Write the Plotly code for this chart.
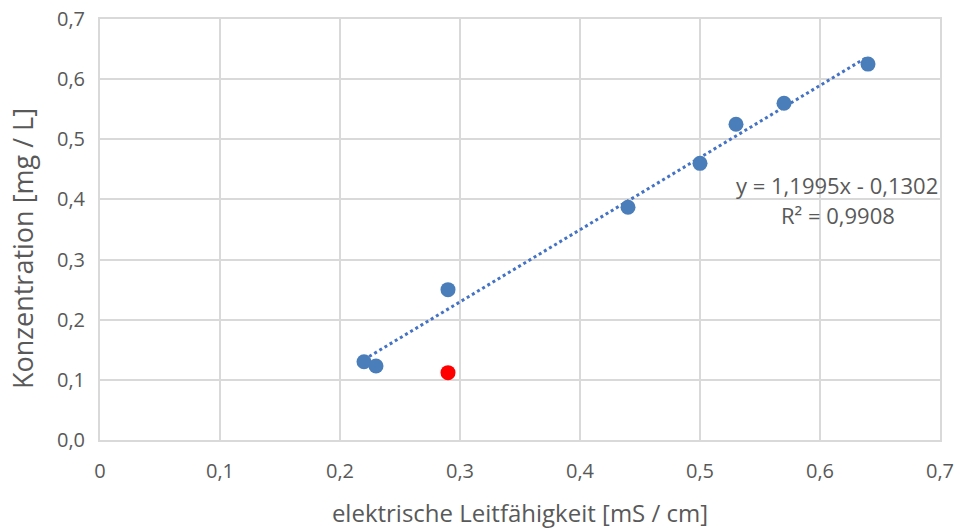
import plotly.graph_objects as go

x_blue = [0.22, 0.23, 0.29, 0.44, 0.50, 0.53, 0.57, 0.64]
y_blue = [0.130, 0.123, 0.250, 0.387, 0.460, 0.525, 0.560, 0.625]
x_red = [0.29]
y_red = [0.112]
slope = 1.1995
intercept = -0.1302
r2_text = "0,9908"
x_ticks = [0, 0.1, 0.2, 0.3, 0.4, 0.5, 0.6, 0.7]
x_ticklabels = ["0", "0,1", "0,2", "0,3", "0,4", "0,5", "0,6", "0,7"]
y_ticks = [0, 0.1, 0.2, 0.3, 0.4, 0.5, 0.6, 0.7]
y_ticklabels = ["0,0", "0,1", "0,2", "0,3", "0,4", "0,5", "0,6", "0,7"]
x_title = "elektrische Leitfähigkeit [mS / cm]"
y_title = "Konzentration [mg / L]"

font = "'Open Sans', sans-serif"
gray = "#595959"

tx = [min(x_blue), max(x_blue)]
ty = [slope * v + intercept for v in tx]

fig = go.Figure()
fig.add_trace(go.Scatter(x=tx, y=ty, mode="lines",
                         line=dict(color="#4472C4", width=3, dash="dot"),
                         hoverinfo="skip", showlegend=False))
fig.add_trace(go.Scatter(x=x_blue, y=y_blue, mode="markers",
                         marker=dict(color="#4A7EBB", size=15), showlegend=False))
fig.add_trace(go.Scatter(x=x_red, y=y_red, mode="markers",
                         marker=dict(color="#FF0000", size=15), showlegend=False))

fig.add_annotation(x=0.614, y=0.424, xref="x", yref="y", xanchor="center", yanchor="middle",
                   text="y = 1,1995x - 0,1302", showarrow=False,
                   font=dict(family=font, size=22, color=gray))
fig.add_annotation(x=0.615, y=0.374, xref="x", yref="y", xanchor="center", yanchor="middle",
                   text="R² = " + r2_text, showarrow=False,
                   font=dict(family=font, size=22, color=gray))
fig.add_annotation(x=-0.0929, y=0.456, xref="paper", yref="paper", xanchor="center", yanchor="middle",
                   text=y_title, textangle=-90, showarrow=False,
                   font=dict(family=font, size=27, color=gray))

fig.update_layout(
    width=962, height=531,
    margin=dict(l=100, r=22, t=19, b=91),
    paper_bgcolor="white", plot_bgcolor="white",
    separators=",.",
    font=dict(family=font, color=gray, size=20),
    xaxis=dict(range=[0, 0.7], tickvals=x_ticks, ticktext=x_ticklabels, automargin=False,
               showgrid=True, gridcolor="#D9D9D9", gridwidth=2,
               zeroline=False, showline=True, linecolor="#D9D9D9", linewidth=2, mirror=True,
               tickfont=dict(size=20, color=gray), ticks="", ticklabelstandoff=12,
               title=dict(text=x_title, font=dict(size=24, color=gray), standoff=22)),
    yaxis=dict(range=[0, 0.7], tickvals=y_ticks, ticktext=y_ticklabels, automargin=False,
               showgrid=True, gridcolor="#D9D9D9", gridwidth=2,
               zeroline=False, showline=True, linecolor="#D9D9D9", linewidth=2, mirror=True,
               tickfont=dict(size=20, color=gray), ticks="", ticklabelstandoff=9),
)

fig.write_html("out.html", config={"displayModeBar": False},
               post_script="document.body.style.margin='0';")
